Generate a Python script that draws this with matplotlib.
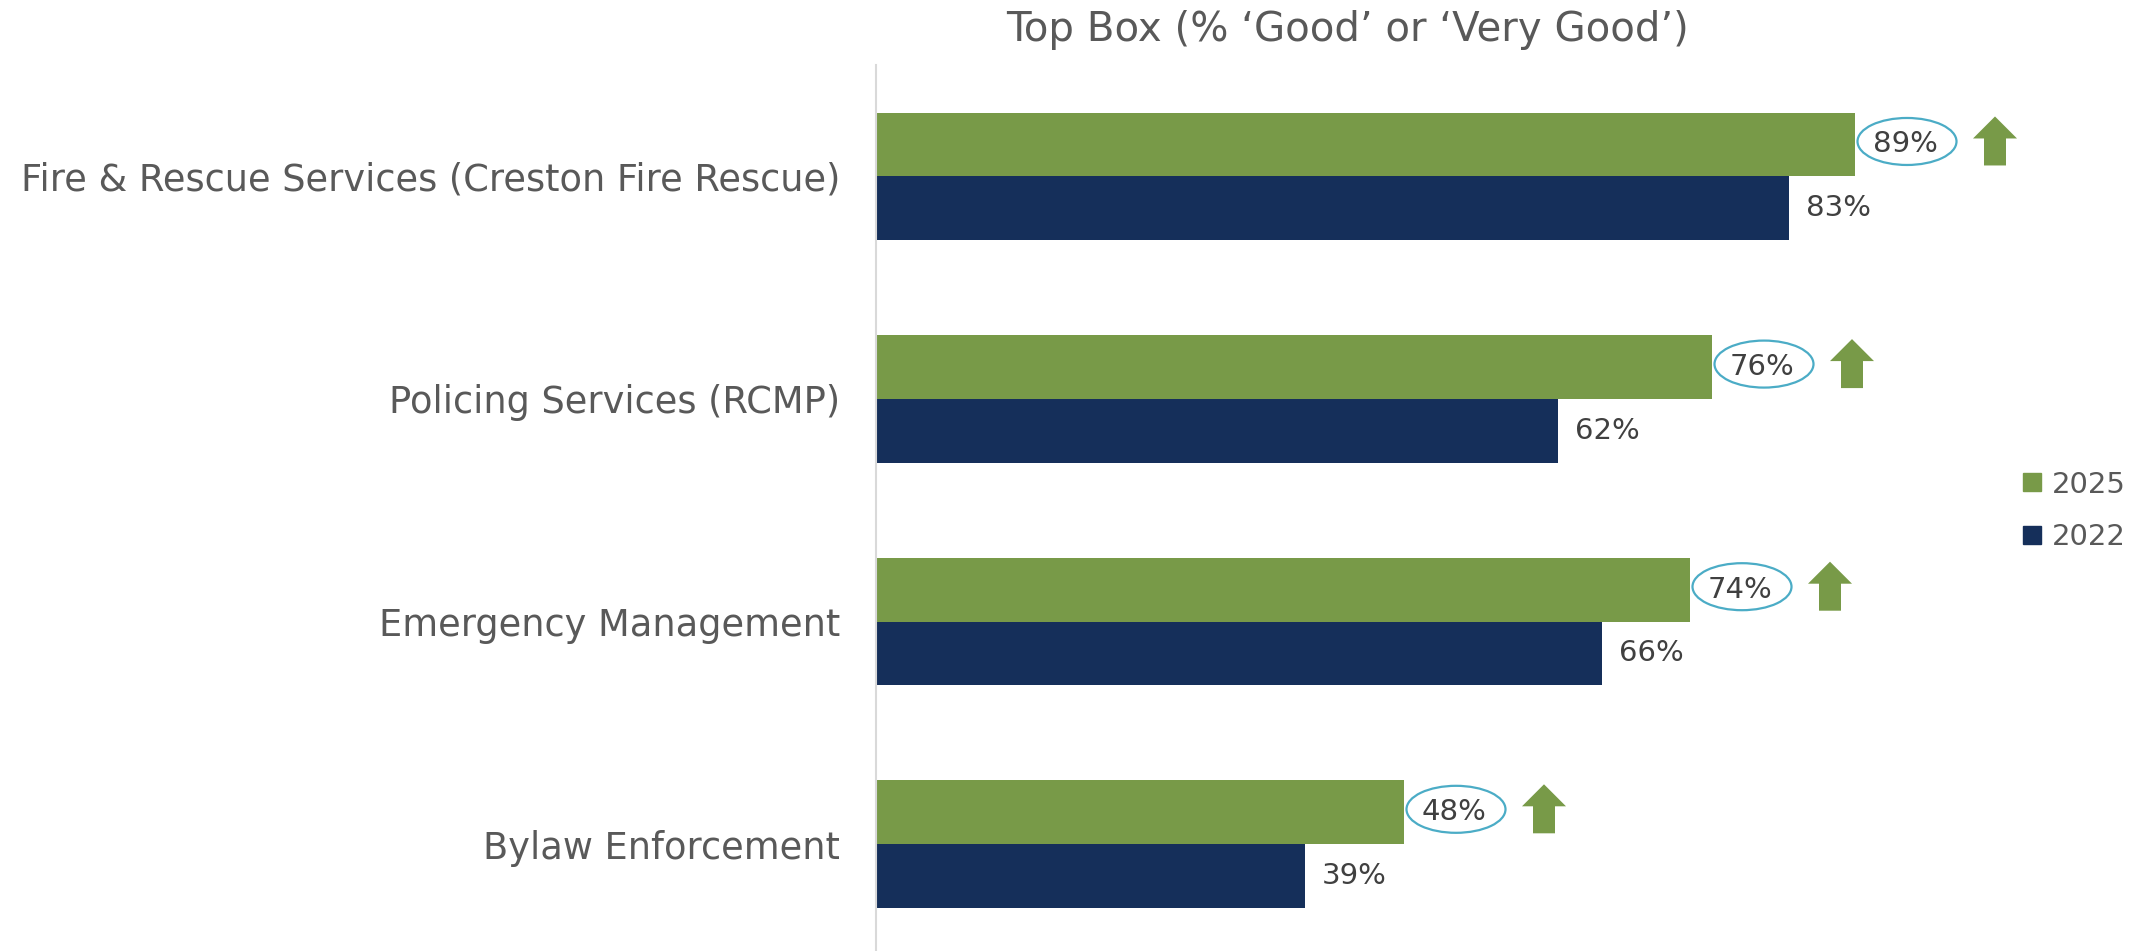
import matplotlib.pyplot as plt
import matplotlib.transforms as mtransforms
from matplotlib.patches import Ellipse, Polygon
from matplotlib.lines import Line2D
import numpy as np

plt.rcParams['font.family'] = ['DejaVu Sans']

# data
categories = ["Fire & Rescue Services (Creston Fire Rescue)",
              "Policing Services (RCMP)",
              "Emergency Management",
              "Bylaw Enforcement"]
vals_2025 = [89, 76, 74, 48]
vals_2022 = [83, 62, 66, 39]
series_names = ["2025", "2022"]

GREEN = "#789a48"
NAVY = "#152f5a"
TXT = "#404040"
LBL = "#595959"
CIRCLE = "#4bacc6"

fig = plt.figure(figsize=(21.39, 9.51), dpi=100)
ax = fig.add_axes([876/2139, 0.0, 1100/2139, 886/951])

y = np.arange(len(categories))
h = 0.286
ax.barh(y - h/2, vals_2025, height=h, color=GREEN, label=series_names[0])
ax.barh(y + h/2, vals_2022, height=h, color=NAVY, label=series_names[1])

ax.set_xlim(0, 100)
ax.set_ylim(3.48, -0.5)
ax.set_yticks(y)
ax.set_yticklabels(categories, fontsize=26.5, color=LBL)
ax.tick_params(axis='y', length=0, pad=26)
ax.set_xticks([])
for s in ['top', 'right', 'bottom']:
    ax.spines[s].set_visible(False)
ax.spines['left'].set_color('#d9d9d9')
ax.spines['left'].set_linewidth(1.5)

# 2022 labels
for yi, v in zip(y, vals_2022):
    ax.annotate(f"{v}%", (v, yi + h/2), xytext=(12, 0), textcoords='offset points',
                va='center', ha='left', fontsize=21, color=TXT)

# 2025 labels with ellipse and up arrow
arrow_pts = np.array([[-22, 0], [0, 22], [22, 0], [11, 0], [11, -27], [-11, -27], [-11, 0]]) / 100.0
for yi, v in zip(y, vals_2025):
    base = mtransforms.ScaledTranslation(v, yi - h/2, ax.transData)
    tr = fig.dpi_scale_trans + base
    ax.text(0.50, 0.0, f"{v}%", transform=tr, va='center', ha='center',
            fontsize=21, color=TXT)
    ax.add_patch(Ellipse((0.52, 0.03), 0.99, 0.47, transform=tr, fill=False,
                         ec=CIRCLE, lw=1.6, clip_on=False))
    ax.add_patch(Polygon(arrow_pts + [1.40, 0.06], closed=True, transform=tr,
                         fc=GREEN, ec='none', clip_on=False))

fig.text(1347/2139, 1 - 30/951, "Top Box (% \u2018Good\u2019 or \u2018Very Good\u2019)",
         ha='center', va='center', fontsize=29, color=LBL)

handles = [Line2D([], [], marker='s', ls='none', ms=13, color=GREEN),
           Line2D([], [], marker='s', ls='none', ms=13, color=NAVY)]
fig.legend(handles, series_names, loc='center left', bbox_to_anchor=(1996/2139, 1 - 511/951),
           frameon=False, fontsize=21, labelcolor=LBL, handlelength=0.7,
           handletextpad=0.3, labelspacing=0.85)

fig.savefig("out.png", dpi=100)
